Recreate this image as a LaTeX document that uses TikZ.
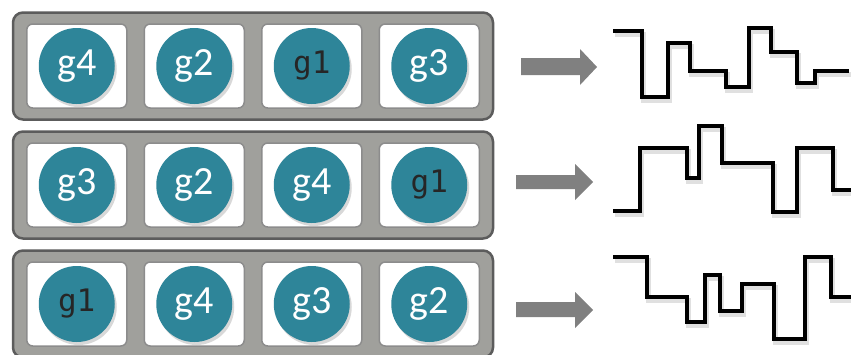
\documentclass[tikz,border=0pt]{standalone}
\usepackage{fontspec}
\newfontfamily\genefont{Carlito}
\newfontfamily\onefont{DejaVu Sans Mono}
\usetikzlibrary{shadows}
\definecolor{genecol}{RGB}{46,133,153}
\definecolor{barfill}{RGB}{160,160,156}
\definecolor{bardraw}{RGB}{92,92,92}
\definecolor{arrowgray}{RGB}{128,128,128}
\begin{document}
\begin{tikzpicture}[x=1pt,y=-1pt,
	bar/.style={draw=bardraw, line width=2.5pt, fill=barfill, rounded corners=10pt, minimum width=480pt, minimum height=107pt},
	cell/.style={draw=black!45, line width=1.5pt, fill=white, rounded corners=6pt, minimum width=100pt, minimum height=84pt},
	gene/.style={circle, fill=genecol, minimum size=76pt, inner sep=0pt, text=white, font=\genefont\fontsize{40}{40}\selectfont, drop shadow={shadow xshift=2pt, shadow yshift=-3pt, opacity=.3}},
	geneone/.style={gene, text=black!85, font=\onefont\fontsize{31}{31}\selectfont},
	wave/.style={line width=3.5pt, preaction={draw=black!12, line width=5pt, transform canvas={shift={(1.5pt,-3pt)}}}}]
	\useasboundingbox[fill=white] (0,0) rectangle (851,354);
	\def\cellw{117.5pt}
	\coordinate (rowi) at (253,66);
	\coordinate (rowii) at (253,185);
	\coordinate (rowiii) at (253,304);
	
	% first order
	\node[bar] (bari) at (rowi) {};
	\node[cell, xshift=-1.5*\cellw] (cellia) at (rowi) {};
	\node[cell, xshift=-.5*\cellw] (cellib) at (rowi) {};
	\node[cell, xshift=.5*\cellw] (cellic) at (rowi) {};
	\node[cell, xshift=1.5*\cellw] (cellid) at (rowi) {};
	\node[gene] (geneia) at (cellia) {g4};
	\node[gene] (geneib) at (cellib) {g2};
	\node[geneone] (geneic) at (cellic) {g1};
	\node[gene] (geneid) at (cellid) {g3};
	
	% second order
	\node[bar] (barii) at (rowii) {};
	\node[cell, xshift=-1.5*\cellw] (celliia) at (rowii) {};
	\node[cell, xshift=-.5*\cellw] (celliib) at (rowii) {};
	\node[cell, xshift=.5*\cellw] (celliic) at (rowii) {};
	\node[cell, xshift=1.5*\cellw] (celliid) at (rowii) {};
	\node[gene] (geneiia) at (celliia) {g3};
	\node[gene] (geneiib) at (celliib) {g2};
	\node[gene] (geneiic) at (celliic) {g4};
	\node[geneone] (geneiid) at (celliid) {g1};
	
	% third order
	\node[bar] (bariii) at (rowiii) {};
	\node[cell, xshift=-1.5*\cellw] (celliiia) at (rowiii) {};
	\node[cell, xshift=-.5*\cellw] (celliiib) at (rowiii) {};
	\node[cell, xshift=.5*\cellw] (celliiic) at (rowiii) {};
	\node[cell, xshift=1.5*\cellw] (celliiid) at (rowiii) {};
	\node[geneone] (geneiiia) at (celliiia) {g1};
	\node[gene] (geneiiib) at (celliiib) {g4};
	\node[gene] (geneiiic) at (celliiic) {g3};
	\node[gene] (geneiiid) at (celliiid) {g2};
	
	% arrows
	\fill[arrowgray] (521,58) -- (580,58) -- (580,49) -- (597,67) -- (580,85) -- (580,75) -- (521,75) -- cycle;
	\fill[arrowgray] (516,175) -- (575,175) -- (575,164) -- (593,182) -- (575,200) -- (575,189) -- (516,189) -- cycle;
	\fill[arrowgray] (516,302) -- (575,302) -- (575,292) -- (593,310) -- (575,328) -- (575,317) -- (516,317) -- cycle;
	
	% signals
	\draw[wave] (613,31) -| (642,97) -| (668,43) -| (690,71) -| (726,87) -| (749,28) -| (771,52) -| (797,83) -| (815,71) -- (849,71);
	\draw[wave] (613,211) -| (640,148) -| (687,178) -| (699,126) -| (722,163) -| (773,212) -| (797,148) -| (833,190) -- (851,190);
	\draw[wave] (613,257) -| (647,297) -| (687,322) -| (705,275) -| (720,311) -| (742,284) -| (774,339) -| (805,257) -| (831,297) -- (851,297);
\end{tikzpicture}
\end{document}
